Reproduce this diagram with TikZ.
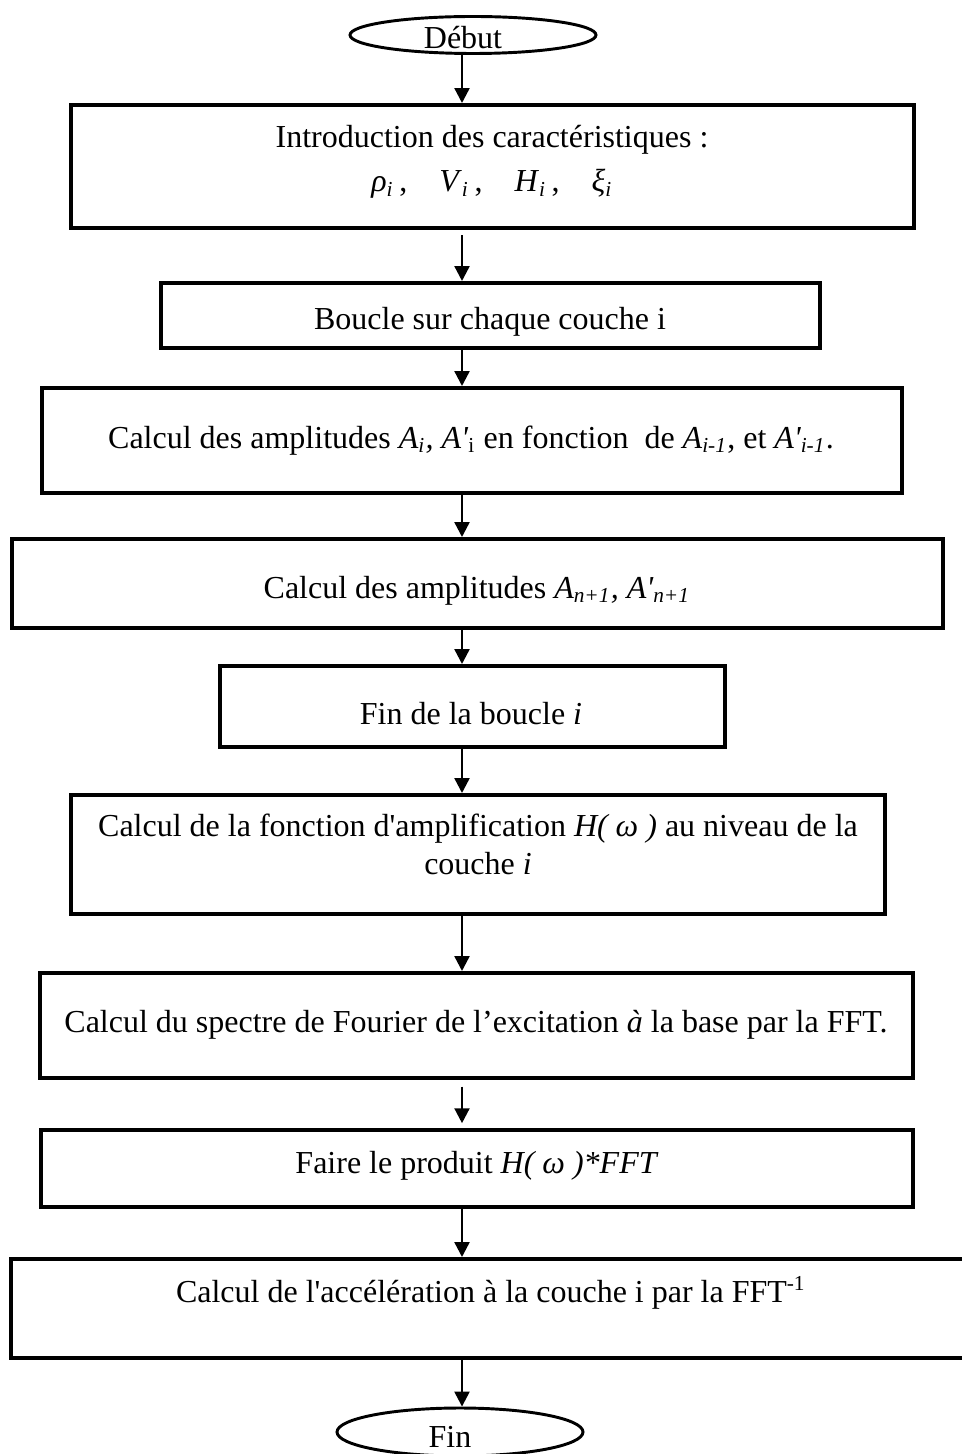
\documentclass[tikz,border=0pt]{standalone}
\usepackage{fontspec}
\setmainfont{Liberation Serif}
\usetikzlibrary{shapes.geometric,arrows.meta}
\tikzset{
  organi/.style={x=0.375pt, y=-0.375pt, font=\fontsize{12}{14}\selectfont},
  etape/.style 2 args={draw, rectangle, line width=1.5pt, inner sep=0pt,
    minimum width=#1*0.375pt, minimum height=#2*0.375pt},
  terminal/.style 2 args={draw, ellipse, line width=1.1pt, inner sep=0pt,
    minimum width=#1*0.375pt, minimum height=#2*0.375pt},
  texte/.style={anchor=base, inner sep=0pt, align=center},
  fleche/.style={line width=0.9pt, -{Triangle[length=5.6pt, width=5.6pt]}}
}
\begin{document}
\begin{tikzpicture}[organi]
\useasboundingbox (0,0) rectangle (962,1454);
\coordinate (axe) at (462,0);
% cadres
\node[terminal={246}{37}] (debut) at (473,35) {};
\node[etape={843}{123}] (intro) at (492.5,166.5) {};
\node[etape={659}{65}] (boucle) at (490.5,315.5) {};
\node[etape={860}{105}] (ampli) at (472,440.5) {};
\node[etape={931}{89}] (amplN) at (477.5,583.5) {};
\node[etape={505}{81}] (finB) at (472.5,706.5) {};
\node[etape={814}{119}] (fonct) at (478,854.5) {};
\node[etape={873}{105}] (spectre) at (476.5,1025.5) {};
\node[etape={872}{77}] (produit) at (477,1168.5) {};
\node[etape={964}{99}] (acc) at (493,1308.5) {};
\node[terminal={246}{48}] (fin) at (460,1432) {};
% textes (base = derniere ligne)
\node[texte] (debut-t) at (463,49) {Début};
\node[texte] (intro-t) at (492,192) {Introduction des caractéristiques :\\[2.5pt]
  \textit{ρ}\textsubscript{\textit{i}}\,,\quad \textit{V}\textsubscript{\textit{i}}\,,\quad
  \textit{H}\textsubscript{\textit{i}}\,,\quad \textit{ξ}\textsubscript{\textit{i}}};
\node[texte] (boucle-t) at (490,330) {Boucle sur chaque couche i};
\node[texte] (ampli-t) at (471,448) {Calcul des amplitudes \textit{A\textsubscript{i}, A\textquotesingle}\textsubscript{i}
  en fonction\ \ de \textit{A\textsubscript{i-1}}, et \textit{A\textquotesingle\textsubscript{i-1}}.};
\node[texte] (amplN-t) at (477,598) {Calcul des amplitudes \textit{A\textsubscript{n+1}, A\textquotesingle\textsubscript{n+1}}};
\node[texte] (finB-t) at (471,724) {Fin de la boucle \textit{i}};
\node[texte] (fonct-t) at (478,874) {Calcul de la fonction d\textquotesingle amplification \textit{H( ω )} au niveau de la\\
  couche \textit{i}};
\node[texte] (spectre-t) at (476,1032) {Calcul du spectre de Fourier de l’excitation \textit{à} la base par la FFT.};
\node[texte] (produit-t) at (477,1173) {Faire le produit \textit{H( ω )*FFT}};
\node[texte] (acc-t) at (491,1302) {Calcul de l\textquotesingle accélération à la couche i par la FFT\textsuperscript{-1}};
\node[texte] (fin-t) at (450,1447) {Fin};
% fleches
\draw[fleche] (debut.south -| axe) -- (intro.north -| axe);
\draw[fleche, shorten <=2pt] (intro.south -| axe) -- (boucle.north -| axe);
\foreach \a/\b in {boucle/ampli, ampli/amplN, amplN/finB, finB/fonct, fonct/spectre}
  \draw[fleche] (\a.south -| axe) -- (\b.north -| axe);
\draw[fleche, shorten <=2.5pt, shorten >=1.8pt] (spectre.south -| axe) -- (produit.north -| axe);
\draw[fleche] (produit.south -| axe) -- (acc.north -| axe);
\draw[fleche] (acc.south -| axe) -- (fin.north -| axe);
\end{tikzpicture}
\end{document}
